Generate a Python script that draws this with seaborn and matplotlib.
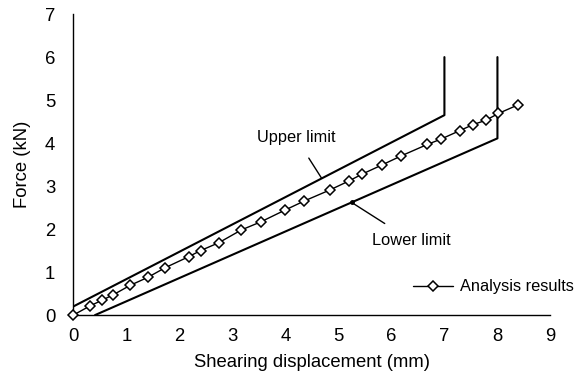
import matplotlib
matplotlib.use("Agg")
import matplotlib.pyplot as plt
import seaborn as sns
import pandas as pd

# Analysis results
disp = [0, 0.31, 0.55, 0.75, 1.07, 1.41, 1.73, 2.18, 2.40, 2.74, 3.17, 3.54, 3.99,
        4.35, 4.84, 5.20, 5.45, 5.82, 6.18, 6.68, 6.93, 7.29, 7.54, 7.78, 8.02, 8.39]
force = [0, 0.21, 0.35, 0.47, 0.69, 0.88, 1.10, 1.36, 1.50, 1.68, 1.98, 2.17, 2.44,
         2.65, 2.91, 3.12, 3.28, 3.49, 3.70, 3.97, 4.09, 4.29, 4.43, 4.53, 4.69, 4.89]

# Limit lines
upper_x = [0, 7, 7]
upper_y = [0.2, 4.65, 6]
lower_x = [0.41, 8, 8]
lower_y = [0, 4.11, 6]

xticks = [0, 1, 2, 3, 4, 5, 6, 7, 8, 9]
yticks = [0, 1, 2, 3, 4, 5, 6, 7]

sns.set_theme(style="white")
plt.rcParams['font.family'] = ['Liberation Sans', 'DejaVu Sans']
plt.rcParams['text.color'] = 'black'
plt.rcParams['axes.labelcolor'] = 'black'
FS = 13.3
FS2 = 11.8

fig = plt.figure(figsize=(5.77, 3.81), dpi=100)
ax = fig.add_axes([0.127, 0.173, 0.827, 0.79])

df_res = pd.DataFrame({"x": disp, "y": force})
df_up = pd.DataFrame({"x": upper_x, "y": upper_y})
df_lo = pd.DataFrame({"x": lower_x, "y": lower_y})

sns.lineplot(data=df_up, x="x", y="y", sort=False, estimator=None,
             color="black", lw=1.5, ax=ax)
sns.lineplot(data=df_lo, x="x", y="y", sort=False, estimator=None,
             color="black", lw=1.5, ax=ax)
sns.lineplot(data=df_res, x="x", y="y", sort=False, estimator=None, color="black", lw=1.0,
             marker="D", markersize=5, markerfacecolor="white",
             markeredgecolor="black", markeredgewidth=1.1,
             label="Analysis results", ax=ax, clip_on=False, zorder=5)

ax.set_xlim(0, 9)
ax.set_ylim(0, 7)
ax.set_xticks(xticks)
ax.set_yticks(yticks)
ax.set_xticklabels([str(t) for t in xticks], fontsize=FS)
ax.set_yticklabels([str(t) for t in yticks], fontsize=FS)
ax.set_xlabel("Shearing displacement (mm)", fontsize=FS, labelpad=7)
ax.set_ylabel("Force (kN)", fontsize=FS, labelpad=10)

for s in ["top", "right"]:
    ax.spines[s].set_visible(False)
for s in ["left", "bottom"]:
    ax.spines[s].set_color("black")
    ax.spines[s].set_linewidth(1.0)
ax.tick_params(axis="x", direction="in", length=5, width=1, color="black",
               pad=9, labelcolor="black")
ax.tick_params(axis="y", direction="in", length=5, width=1, color="black",
               pad=13, labelcolor="black")

ax.annotate("Upper limit", xy=(4.68, 3.19), xytext=(4.2, 4.12),
            fontsize=FS2, ha="center", va="center",
            arrowprops=dict(arrowstyle="-", color="black", lw=1,
                            shrinkA=8, shrinkB=0))
ax.annotate("Lower limit", xy=(5.25, 2.62), xytext=(6.37, 1.74),
            fontsize=FS2, ha="center", va="center",
            arrowprops=dict(arrowstyle="-", color="black", lw=1,
                            shrinkA=8, shrinkB=0))
ax.plot([5.25], [2.62], marker="o", markersize=2.5, color="black")

leg = ax.legend(loc="lower right", bbox_to_anchor=(1.08, 0.02), frameon=False,
                fontsize=FS2, handlelength=2.4, handletextpad=0.45)

fig.savefig("out.png", dpi=100)
